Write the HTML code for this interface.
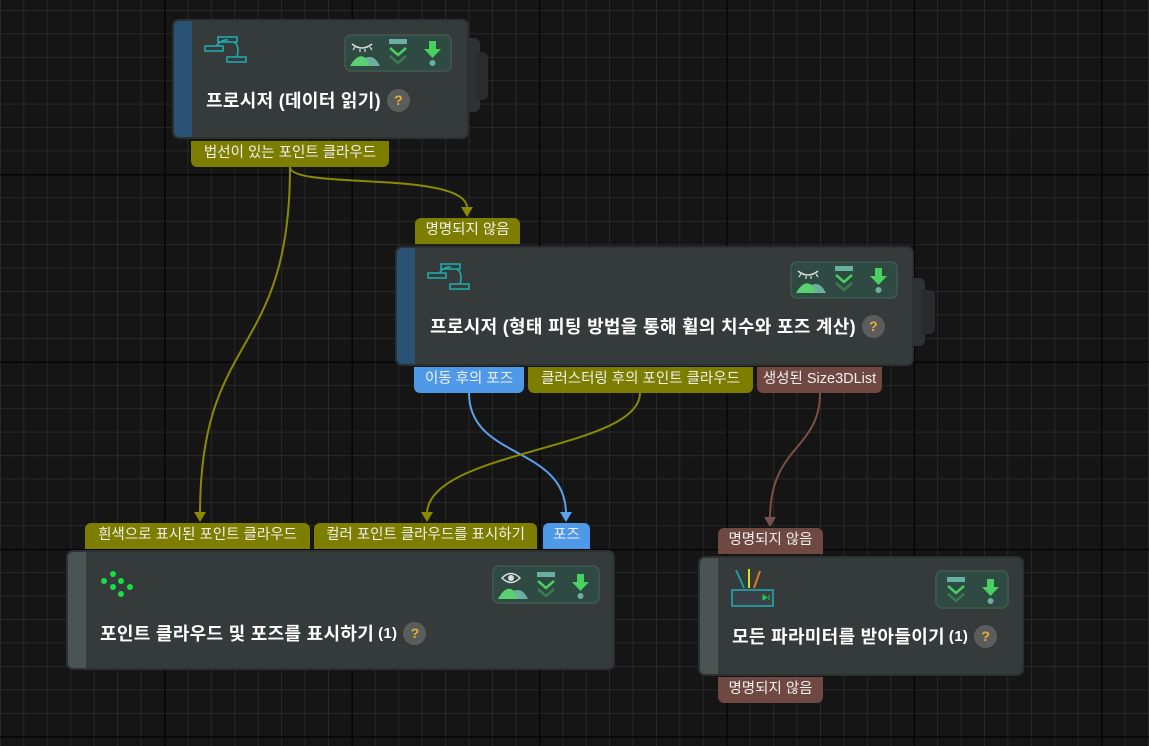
<!DOCTYPE html>
<html><head><meta charset="utf-8"><style>
body{margin:0;width:1149px;height:746px;overflow:hidden;background:#151515;font-family:"Liberation Sans","Noto Sans CJK KR",sans-serif;position:relative}
.abs{position:absolute}
.node{position:absolute;background:#353a3a;border:2px solid #2c3030;border-radius:7px;box-sizing:border-box;overflow:hidden}
.bar{position:absolute;left:0;top:0;bottom:0;width:18px}
.title{position:absolute;color:#fff;font-weight:bold;font-size:18px;letter-spacing:0.3px;white-space:nowrap;display:flex;align-items:center}
.q{display:inline-block;width:23px;height:23px;border-radius:50%;background:#5b5d5d;color:#e8b030;font-size:14px;text-align:center;line-height:23px;margin-left:6px;font-weight:bold;letter-spacing:0}
.lab{position:absolute;height:26px;line-height:25px;color:#f0f0f0;font-size:14.5px;text-align:center;white-space:nowrap}
.ol{background:#7d7d00}.bl{background:#4f9ae8}.br{background:#6e4841}
.top{border-radius:0 0 6px 6px}.bot{border-radius:6px 6px 0 0}
.ibox{position:absolute;background:#2e4a42;border:2px solid #3d544d;border-radius:7px;box-sizing:border-box}
.stub{position:absolute;background:#2e3232;border-radius:0 6px 6px 0}
</style></head><body>
<svg class="abs" style="left:0;top:0" width="1149" height="746">
<defs>
<pattern id="mn" x="164" y="174" width="23.43" height="23.43" patternUnits="userSpaceOnUse"><path d="M0 0H23.43M0 0V23.43" stroke="#2e2e2e" stroke-width="1.5" fill="none"/></pattern>
<pattern id="mj" x="164" y="174" width="187.4" height="187.4" patternUnits="userSpaceOnUse"><path d="M0 0.5H187.4M0.5 0V187.4" stroke="#050505" stroke-width="2" fill="none"/></pattern>
</defs>
<rect width="1149" height="746" fill="url(#mn)"/>
<rect width="1149" height="746" fill="url(#mj)"/>
<g fill="none" stroke-width="2">
<path d="M290 167 C290 360 200 330 200 514" stroke="#8a8a00"/>
<path d="M290 167 C290 190 467 170 467 208" stroke="#8a8a00"/>
<path d="M469 393 C469 460 566 445 566 514" stroke="#5aa2ee"/>
<path d="M640 393 C640 450 427 450 427 514" stroke="#8a8a00"/>
<path d="M820 393 C820 450 770 445 770 519" stroke="#7a5048"/>
</g>
<path d="M194 512h12l-6 10z" fill="#8a8a00"/>
<path d="M461 207h12l-6 10z" fill="#8a8a00"/>
<path d="M560 512h12l-6 10z" fill="#5aa2ee"/>
<path d="M421 512h12l-6 10z" fill="#8a8a00"/>
<path d="M764 517h12l-6 10z" fill="#7a5048"/>
</svg>

<!-- Node 1 -->
<div class="stub" style="left:466px;top:38px;width:14px;height:74px"></div>
<div class="stub" style="left:476px;top:52px;width:12px;height:48px;background:#282c2c"></div>
<div class="node" style="left:172px;top:19px;width:297px;height:120px"><div class="bar" style="background:#2a5275"></div></div>
<svg class="abs" style="left:204px;top:36px" width="46" height="30"><g fill="none" stroke="#1fb0b0" stroke-width="1.5"><rect x="14" y="1" width="19" height="5"/><rect x="1" y="10" width="18" height="5"/><rect x="23" y="21" width="19" height="5"/><path d="M12 10 Q18 3 24 4 M30 6 Q36 10 33 21"/></g></svg>
<div class="ibox" style="left:344px;top:34px;width:108px;height:38px"></div>
<div class="title" style="left:206px;top:87px">프로시저 (데이터 읽기)<span class="q">?</span></div>
<div class="lab ol top" style="left:191px;top:141px;width:198px">법선이 있는 포인트 클라우드</div>

<!-- Node 2 -->
<div class="stub" style="left:911px;top:278px;width:14px;height:68px"></div>
<div class="stub" style="left:921px;top:290px;width:14px;height:44px;background:#282c2c"></div>
<div class="node" style="left:395px;top:246px;width:519px;height:120px"><div class="bar" style="background:#2a5275"></div></div>
<svg class="abs" style="left:427px;top:263px" width="46" height="30"><g fill="none" stroke="#1fb0b0" stroke-width="1.5"><rect x="14" y="1" width="19" height="5"/><rect x="1" y="10" width="18" height="5"/><rect x="23" y="21" width="19" height="5"/><path d="M12 10 Q18 3 24 4 M30 6 Q36 10 33 21"/></g></svg>
<div class="ibox" style="left:790px;top:261px;width:108px;height:38px"></div>
<div class="title" style="left:430px;top:313px">프로시저 (형태 피팅 방법을 통해 휠의 치수와 포즈 계산)<span class="q">?</span></div>
<div class="lab ol bot" style="left:415px;top:218px;width:105px">명명되지 않음</div>
<div class="lab bl top" style="left:414px;top:367px;width:110px">이동 후의 포즈</div>
<div class="lab ol top" style="left:528px;top:367px;width:225px">클러스터링 후의 포인트 클라우드</div>
<div class="lab br top" style="left:757px;top:367px;width:125px">생성된 Size3DList</div>

<!-- Node 3 -->
<div class="node" style="left:66px;top:550px;width:549px;height:120px"><div class="bar" style="background:#4a5553"></div></div>
<svg class="abs" style="left:100px;top:570px" width="40" height="30"><g fill="#14e040"><circle cx="4" cy="11" r="3"/><circle cx="13" cy="4" r="3"/><circle cx="21" cy="11" r="3"/><circle cx="13" cy="17" r="3"/><circle cx="30" cy="17" r="3"/><circle cx="21" cy="24" r="3"/></g></svg>
<div class="ibox" style="left:492px;top:565px;width:108px;height:39px"></div>
<div class="title" style="left:100px;top:620px">포인트 클라우드 및 포즈를 표시하기 <span style="font-size:15px;margin-left:4px">(1)</span><span class="q">?</span></div>
<div class="lab ol bot" style="left:85px;top:523px;width:225px">흰색으로 표시된 포인트 클라우드</div>
<div class="lab ol bot" style="left:314px;top:523px;width:223px">컬러 포인트 클라우드를 표시하기</div>
<div class="lab bl bot" style="left:543px;top:523px;width:47px">포즈</div>

<!-- Node 4 -->
<div class="node" style="left:698px;top:556px;width:326px;height:120px"><div class="bar" style="background:#4a5553"></div></div>
<svg class="abs" style="left:730px;top:568px" width="46" height="40"><path d="M6 2 L14 20" stroke-width="2" fill="none" stroke="#1aa0a0"/><path d="M19 1 V20" stroke="#d8e020" stroke-width="2"/><path d="M30 3 L24 20" stroke="#e07820" stroke-width="2"/><rect x="2" y="22" width="41" height="16" fill="#3a4048" stroke="#1fb0b0" stroke-width="1.5"/><path d="M33 27v5l4-2.5z M39 27v5" fill="#20d040" stroke="#20d040"/></svg>
<div class="ibox" style="left:935px;top:570px;width:74px;height:39px"></div>
<div class="title" style="left:732px;top:623px">모든 파라미터를 받아들이기 <span style="font-size:15px;margin-left:4px">(1)</span><span class="q">?</span></div>
<div class="lab br bot" style="left:718px;top:528px;width:105px">명명되지 않음</div>
<div class="lab br top" style="left:718px;top:677px;width:105px">명명되지 않음</div>

<!-- icons -->
<svg class="abs" style="left:350px;top:38px" width="34" height="30"><path d="M2 6 Q12 14 22 6" stroke="#ddd" fill="none" stroke-width="1.5"/><path d="M5 9l-2 3M10 11v3M15 11v3M20 9l2 3" stroke="#ddd" stroke-width="1.2"/><path d="M0 28 Q8 14 16 20 Q22 16 28 28z" fill="#5ad070"/><path d="M16 20 Q24 16 30 28H20z" fill="#6ab0a0"/></svg>
<svg class="abs" style="left:386px;top:38px" width="24" height="30"><rect x="3" y="1" width="18" height="5" fill="#6ab0a0"/><path d="M4 10l8 7 8-7" stroke="#4ad060" stroke-width="2.5" fill="none"/><path d="M4 18l8 7 8-7" stroke="#3a7a50" stroke-width="2.5" fill="none"/></svg>
<svg class="abs" style="left:424px;top:40px" width="18" height="28"><path d="M5 1h7v8h5l-8.5 9L0 9h5z" fill="#4ad060"/><circle cx="8.5" cy="23" r="3" fill="#6ab0a0"/></svg>

<svg class="abs" style="left:796px;top:265px" width="34" height="30"><path d="M2 6 Q12 14 22 6" stroke="#ddd" fill="none" stroke-width="1.5"/><path d="M5 9l-2 3M10 11v3M15 11v3M20 9l2 3" stroke="#ddd" stroke-width="1.2"/><path d="M0 28 Q8 14 16 20 Q22 16 28 28z" fill="#5ad070"/><path d="M16 20 Q24 16 30 28H20z" fill="#6ab0a0"/></svg>
<svg class="abs" style="left:832px;top:265px" width="24" height="30"><rect x="3" y="1" width="18" height="5" fill="#6ab0a0"/><path d="M4 10l8 7 8-7" stroke="#4ad060" stroke-width="2.5" fill="none"/><path d="M4 18l8 7 8-7" stroke="#3a7a50" stroke-width="2.5" fill="none"/></svg>
<svg class="abs" style="left:870px;top:267px" width="18" height="28"><path d="M5 1h7v8h5l-8.5 9L0 9h5z" fill="#4ad060"/><circle cx="8.5" cy="23" r="3" fill="#6ab0a0"/></svg>

<svg class="abs" style="left:498px;top:570px" width="34" height="30"><path d="M4 8 Q13 -1 22 8 Q13 17 4 8z" stroke="#ddd" fill="none" stroke-width="1.5"/><circle cx="13" cy="8" r="3" fill="#ddd"/><path d="M0 29 Q8 14 16 21 Q22 17 28 29z" fill="#5ad070"/><path d="M16 21 Q24 17 30 29H20z" fill="#6ab0a0"/></svg>
<svg class="abs" style="left:534px;top:571px" width="24" height="30"><rect x="3" y="1" width="18" height="5" fill="#6ab0a0"/><path d="M4 10l8 7 8-7" stroke="#4ad060" stroke-width="2.5" fill="none"/><path d="M4 18l8 7 8-7" stroke="#3a7a50" stroke-width="2.5" fill="none"/></svg>
<svg class="abs" style="left:572px;top:573px" width="18" height="28"><path d="M5 1h7v8h5l-8.5 9L0 9h5z" fill="#4ad060"/><circle cx="8.5" cy="23" r="3" fill="#6ab0a0"/></svg>

<svg class="abs" style="left:944px;top:576px" width="24" height="30"><rect x="3" y="1" width="18" height="5" fill="#6ab0a0"/><path d="M4 10l8 7 8-7" stroke="#4ad060" stroke-width="2.5" fill="none"/><path d="M4 18l8 7 8-7" stroke="#3a7a50" stroke-width="2.5" fill="none"/></svg>
<svg class="abs" style="left:982px;top:578px" width="18" height="28"><path d="M5 1h7v8h5l-8.5 9L0 9h5z" fill="#4ad060"/><circle cx="8.5" cy="23" r="3" fill="#6ab0a0"/></svg>
</body></html>
